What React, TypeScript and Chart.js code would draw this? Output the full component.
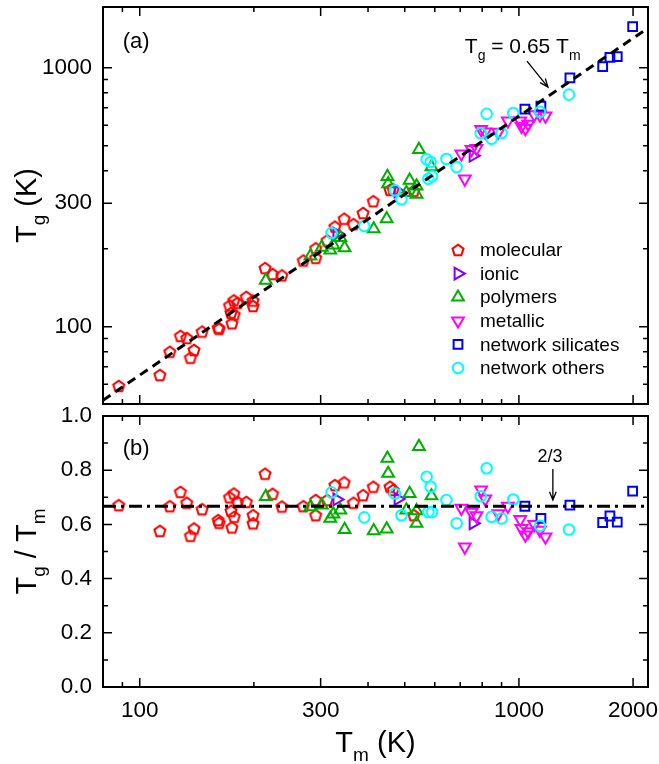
import React, { useEffect, useRef } from 'react';
import { Chart, registerables } from 'chart.js';

Chart.register(...registerables);

const W = 659;
const H = 764;
const FONT = "'Liberation Sans', Arial, Helvetica, sans-serif";

// ---- axis ranges and ticks ----
const TM_MIN = 80;
const TM_MAX = 2190;
const TG_MIN = 50.3;
const TG_MAX = 1716;
const RATIO_MIN = 0;
const RATIO_MAX = 1;

const xMajorTicks = [100, 300, 1000, 2000];
const xMinorTicks = [90, 200, 400, 500, 600, 700, 800, 900];
const tgMajorTicks = [100, 300, 1000];
const tgMinorTicks = [60, 70, 80, 90, 200, 400, 500, 600, 700, 800, 900];
const ratioMajorTicks = [0, 0.2, 0.4, 0.6, 0.8, 1.0];
const ratioMinorTicks = [0.1, 0.3, 0.5, 0.7, 0.9];

// ---- data: melting temperature Tm (K) and Tg/Tm ratio ----
const molecularTm = [88, 113, 120, 128, 133, 136, 139, 146, 161, 162, 172.5, 174, 175, 177, 177.5, 181, 191, 199, 199, 214, 224, 237, 270, 291, 291, 312, 327, 346, 366, 388, 413, 457, 466, 528];
const molecularRatio = [0.671, 0.576, 0.667, 0.720, 0.680, 0.558, 0.585, 0.656, 0.616, 0.606, 0.700, 0.650, 0.589, 0.714, 0.628, 0.683, 0.683, 0.634, 0.604, 0.787, 0.713, 0.666, 0.667, 0.690, 0.634, 0.690, 0.745, 0.755, 0.680, 0.708, 0.739, 0.739, 0.727, 0.634];

const ionicTm = [331, 480, 757];
const ionicRatio = [0.692, 0.694, 0.604];

const polymersTm = [215, 282, 302, 318, 324, 338, 347, 414, 448, 450, 452, 505, 515, 537, 537, 545, 588];
const polymersRatio = [0.703, 0.665, 0.671, 0.622, 0.638, 0.653, 0.581, 0.576, 0.583, 0.844, 0.788, 0.653, 0.714, 0.650, 0.604, 0.887, 0.705];

const metallicTm = [705, 720, 750, 773, 795, 815, 882, 935, 1008, 1016, 1040, 1058, 1098, 1136, 1175];
const metallicRatio = [0.660, 0.517, 0.645, 0.632, 0.727, 0.694, 0.640, 0.667, 0.618, 0.585, 0.561, 0.573, 0.600, 0.579, 0.554];

const silicatesTm = [1037, 1143, 1363, 1663, 1738, 1817, 1995];
const silicatesRatio = [0.667, 0.622, 0.671, 0.607, 0.631, 0.608, 0.723];

const othersTm = [320.5, 391, 471, 490, 571, 585, 577, 590, 644, 685, 793, 822, 847, 900, 966, 1136, 1355];
const othersRatio = [0.718, 0.626, 0.714, 0.634, 0.776, 0.739, 0.646, 0.646, 0.690, 0.604, 0.704, 0.807, 0.628, 0.622, 0.692, 0.595, 0.581];

// reference lines
const fitFactor = 0.65;
const fitTm = [TM_MIN, TM_MAX];
const refRatio = 2 / 3;

// annotation anchors (data coordinates)
const fitLabelTm = 720;
const fitLabelTg = 1139;
const fitArrowFrom = [1050, 1061];
const fitArrowTo = [1193, 842];
const panelALabel = [90.2, 1260];
const panelBLabel = [90.2, 0.878];
const refLabel = [1207, 0.85];
const refArrowTm = 1229;
const refArrowFrom = 0.804;
const refArrowTo = 0.690;

type Shape = 'pentagon' | 'triangle' | 'rect' | 'circle';
interface SeriesDef { label: string; tm: number[]; ratio: number[]; color: string; shape: Shape; rotation: number; radius: number; }

const seriesDefs: SeriesDef[] = [
  { label: 'molecular', tm: molecularTm, ratio: molecularRatio, color: '#FF0000', shape: 'pentagon', rotation: 0, radius: 5.8 },
  { label: 'ionic', tm: ionicTm, ratio: ionicRatio, color: '#8000FF', shape: 'triangle', rotation: 90, radius: 6.8 },
  { label: 'polymers', tm: polymersTm, ratio: polymersRatio, color: '#00B000', shape: 'triangle', rotation: 0, radius: 6.8 },
  { label: 'metallic', tm: metallicTm, ratio: metallicRatio, color: '#FF00FF', shape: 'triangle', rotation: 180, radius: 6.8 },
  { label: 'network silicates', tm: silicatesTm, ratio: silicatesRatio, color: '#0000FF', shape: 'rect', rotation: 0, radius: 6.2 },
  { label: 'network others', tm: othersTm, ratio: othersRatio, color: '#00FFFF', shape: 'circle', rotation: 0, radius: 5.3 },
];

const MARK_LW = 2;

function makePentagon(color: string, r: number, lw: number) {
  const size = Math.ceil(2 * r + lw + 4);
  const c = document.createElement('canvas');
  c.width = size;
  c.height = size;
  const g = c.getContext('2d')!;
  g.strokeStyle = color;
  g.lineWidth = lw;
  g.lineJoin = 'miter';
  const cx = size / 2;
  const cy = size / 2 + r * 0.08;
  g.beginPath();
  for (let i = 0; i < 5; i++) {
    const a = -Math.PI / 2 + (i * 2 * Math.PI) / 5;
    const px = cx + r * Math.cos(a);
    const py = cy + r * Math.sin(a);
    if (i === 0) g.moveTo(px, py);
    else g.lineTo(px, py);
  }
  g.closePath();
  g.stroke();
  return c;
}

function drawMarker(ctx: CanvasRenderingContext2D, s: SeriesDef, x: number, y: number, img: HTMLCanvasElement) {
  ctx.save();
  ctx.strokeStyle = s.color;
  ctx.lineWidth = MARK_LW;
  if (s.shape === 'pentagon') {
    ctx.drawImage(img, x - img.width / 2, y - img.height / 2);
  } else {
    ctx.beginPath();
    const r = s.radius;
    if (s.shape === 'circle') {
      ctx.arc(x, y, r, 0, Math.PI * 2);
    } else if (s.shape === 'rect') {
      const a = Math.SQRT1_2 * r;
      ctx.rect(x - a, y - a, 2 * a, 2 * a);
    } else {
      let rad = (s.rotation * Math.PI) / 180;
      for (let i = 0; i < 3; i++) {
        const px = x + Math.sin(rad) * r;
        const py = y - Math.cos(rad) * r;
        if (i === 0) ctx.moveTo(px, py);
        else ctx.lineTo(px, py);
        rad += (2 * Math.PI) / 3;
      }
      ctx.closePath();
    }
    ctx.stroke();
  }
  ctx.restore();
}

type Part = [string, boolean];
function drawRich(ctx: CanvasRenderingContext2D, parts: Part[], x: number, y: number, size: number, subSize: number, subDy: number, rotate: boolean, align: 'center' | 'left') {
  ctx.save();
  ctx.translate(x, y);
  if (rotate) ctx.rotate(-Math.PI / 2);
  ctx.textBaseline = 'alphabetic';
  ctx.textAlign = 'left';
  ctx.fillStyle = '#000';
  let total = 0;
  const widths = parts.map(([t, sub]) => {
    ctx.font = `${sub ? subSize : size}px ${FONT}`;
    const w = ctx.measureText(t).width;
    total += w;
    return w;
  });
  let cx = align === 'center' ? -total / 2 : 0;
  parts.forEach(([t, sub], i) => {
    ctx.font = `${sub ? subSize : size}px ${FONT}`;
    ctx.fillText(t, cx, sub ? subDy : 0);
    cx += widths[i];
  });
  ctx.restore();
}

function drawArrow(ctx: CanvasRenderingContext2D, x1: number, y1: number, x2: number, y2: number) {
  const head = 9;
  const ang = 0.38;
  const a = Math.atan2(y2 - y1, x2 - x1);
  ctx.save();
  ctx.strokeStyle = '#000';
  ctx.lineWidth = 1.3;
  ctx.beginPath();
  ctx.moveTo(x1, y1);
  ctx.lineTo(x2, y2);
  ctx.moveTo(x2 - head * Math.cos(a - ang), y2 - head * Math.sin(a - ang));
  ctx.lineTo(x2, y2);
  ctx.lineTo(x2 - head * Math.cos(a + ang), y2 - head * Math.sin(a + ang));
  ctx.stroke();
  ctx.restore();
}

function drawFrameTicks(chart: any, yMajor: number[], yMinor: number[]) {
  const { ctx, chartArea: a, scales } = chart;
  const xs = scales.x;
  const ys = scales.y;
  ctx.save();
  ctx.strokeStyle = '#000';
  ctx.lineWidth = 1.5;
  ctx.beginPath();
  const MAJ = 9;
  const MIN = 5;
  const xt = (v: number, len: number) => {
    const p = xs.getPixelForValue(v);
    ctx.moveTo(p, a.bottom);
    ctx.lineTo(p, a.bottom - len);
    ctx.moveTo(p, a.top);
    ctx.lineTo(p, a.top + len);
  };
  const yt = (v: number, len: number) => {
    const p = ys.getPixelForValue(v);
    ctx.moveTo(a.left, p);
    ctx.lineTo(a.left + len, p);
    ctx.moveTo(a.right, p);
    ctx.lineTo(a.right - len, p);
  };
  xMajorTicks.forEach((v) => xt(v, MAJ));
  xMinorTicks.forEach((v) => xt(v, MIN));
  yMajor.forEach((v) => yt(v, MAJ));
  yMinor.forEach((v) => yt(v, MIN));
  ctx.stroke();
  ctx.lineWidth = 2;
  ctx.strokeRect(a.left, a.top, a.right - a.left, a.bottom - a.top);
  ctx.restore();
}

function scatterDatasets(useRatio: boolean, pent: HTMLCanvasElement) {
  return seriesDefs.map((s, i) => ({
    type: 'scatter',
    label: s.label,
    data: s.tm.map((t, k) => ({ x: t, y: useRatio ? s.ratio[k] : t * s.ratio[k] })),
    pointStyle: s.shape === 'pentagon' ? pent : s.shape,
    pointRotation: s.rotation,
    pointRadius: s.radius,
    pointBorderWidth: MARK_LW,
    pointBorderColor: s.color,
    pointBackgroundColor: 'rgba(0,0,0,0)',
    order: 10 - i,
  }));
}

// fix an axis box size and cancel Chart.js label-overflow padding
function fixBox(width: number | null, height: number | null) {
  return (s: any) => {
    if (width !== null) s.width = width;
    if (height !== null) s.height = height;
    s.paddingTop = 0;
    s.paddingBottom = 0;
    s.paddingLeft = 0;
    s.paddingRight = 0;
  };
}

const tickFont = { family: FONT, size: 22.5 };

export default function App() {
  const topRef = useRef<HTMLCanvasElement>(null);
  const botRef = useRef<HTMLCanvasElement>(null);

  useEffect(() => {
    const pent = makePentagon('#FF0000', 5.8, MARK_LW);

    const topPlugin = {
      id: 'topDecor',
      afterDraw(chart: any) {
        const { ctx, chartArea: a, scales } = chart;
        const xs = scales.x;
        const ys = scales.y;
        drawFrameTicks(chart, tgMajorTicks, tgMinorTicks);
        // legend
        const legX = a.left + 355;
        const legY0 = a.top + 243;
        const legDY = 23.6;
        seriesDefs.forEach((s, i) => {
          const y = legY0 + i * legDY;
          drawMarker(ctx, s, legX, y, pent);
          ctx.save();
          ctx.fillStyle = '#000';
          ctx.font = `19px ${FONT}`;
          ctx.textBaseline = 'middle';
          ctx.textAlign = 'left';
          ctx.fillText(s.label, legX + 22, y + 1);
          ctx.restore();
        });
        // panel label
        ctx.save();
        ctx.fillStyle = '#000';
        ctx.font = `22px ${FONT}`;
        ctx.textBaseline = 'middle';
        ctx.textAlign = 'left';
        ctx.fillText('(a)', xs.getPixelForValue(panelALabel[0]), ys.getPixelForValue(panelALabel[1]));
        ctx.restore();
        // fit label + arrow
        drawRich(ctx, [['T', false], ['g', true], [' = 0.65 T', false], ['m', true]],
          xs.getPixelForValue(fitLabelTm), ys.getPixelForValue(fitLabelTg), 21, 14, 6.5, false, 'left');
        drawArrow(ctx, xs.getPixelForValue(fitArrowFrom[0]), ys.getPixelForValue(fitArrowFrom[1]),
          xs.getPixelForValue(fitArrowTo[0]), ys.getPixelForValue(fitArrowTo[1]));
        // y title
        drawRich(ctx, [['T', false], ['g', true], [' (K)', false]], 36, (a.top + a.bottom) / 2, 29, 19, 9, true, 'center');
      },
    };

    const botPlugin = {
      id: 'botDecor',
      afterDraw(chart: any) {
        const { ctx, chartArea: a, scales } = chart;
        const xs = scales.x;
        const ys = scales.y;
        drawFrameTicks(chart, ratioMajorTicks, ratioMinorTicks);
        ctx.save();
        ctx.fillStyle = '#000';
        ctx.font = `22px ${FONT}`;
        ctx.textBaseline = 'middle';
        ctx.textAlign = 'left';
        ctx.fillText('(b)', xs.getPixelForValue(panelBLabel[0]), ys.getPixelForValue(panelBLabel[1]));
        ctx.font = `18px ${FONT}`;
        ctx.textAlign = 'center';
        ctx.fillText('2/3', xs.getPixelForValue(refLabel[0]), ys.getPixelForValue(refLabel[1]));
        ctx.restore();
        const ax = xs.getPixelForValue(refArrowTm);
        drawArrow(ctx, ax, ys.getPixelForValue(refArrowFrom), ax, ys.getPixelForValue(refArrowTo));
        drawRich(ctx, [['T', false], ['g', true], [' / ', false], ['T', false], ['m', true]], 36, (a.top + a.bottom) / 2, 29, 19, 9, true, 'center');
        drawRich(ctx, [['T', false], ['m', true], [' (K)', false]], (a.left + a.right) / 2, 752, 29, 19, 9, false, 'center');
      },
    };

    const topChart = new Chart(topRef.current!, {
      type: 'scatter',
      data: {
        datasets: [
          {
            type: 'line',
            label: 'fit',
            data: fitTm.map((t) => ({ x: t, y: fitFactor * t })),
            borderColor: '#000',
            borderWidth: 3,
            borderDash: [9, 6],
            pointRadius: 0,
            fill: false,
            tension: 0,
            order: 0,
          } as any,
          ...(scatterDatasets(false, pent) as any[]),
        ],
      },
      options: {
        responsive: false,
        animation: false,
        events: [],
        layout: { padding: { top: 7, right: 11, bottom: 360, left: 0 }, autoPadding: false },
        plugins: { legend: { display: false }, tooltip: { enabled: false } },
        scales: {
          x: {
            type: 'logarithmic', min: TM_MIN, max: TM_MAX,
            grid: { display: false, drawTicks: false }, border: { display: false },
            ticks: { display: false },
            afterFit: fixBox(null, 0),
          },
          y: {
            type: 'logarithmic', min: TG_MIN, max: TG_MAX,
            grid: { display: false, drawTicks: false }, border: { display: false },
            afterBuildTicks: (s: any) => { s.ticks = tgMajorTicks.map((v) => ({ value: v })); },
            ticks: { callback: (v: any) => String(v), font: tickFont, color: '#000', padding: 11, autoSkip: false },
            afterFit: fixBox(103, null),
          },
        },
      } as any,
      plugins: [topPlugin],
    } as any);

    const botChart = new Chart(botRef.current!, {
      type: 'scatter',
      data: {
        datasets: [
          {
            type: 'line',
            label: 'ref',
            data: fitTm.map((t) => ({ x: t, y: refRatio })),
            borderColor: '#000',
            borderWidth: 3,
            borderDash: [13, 5, 3, 5],
            pointRadius: 0,
            fill: false,
            tension: 0,
            order: 0,
          } as any,
          ...(scatterDatasets(true, pent) as any[]),
        ],
      },
      options: {
        responsive: false,
        animation: false,
        events: [],
        layout: { padding: { top: 416, right: 11, bottom: 0, left: 0 }, autoPadding: false },
        plugins: { legend: { display: false }, tooltip: { enabled: false } },
        scales: {
          x: {
            type: 'logarithmic', min: TM_MIN, max: TM_MAX,
            grid: { display: false, drawTicks: false }, border: { display: false },
            afterBuildTicks: (s: any) => { s.ticks = xMajorTicks.map((v) => ({ value: v })); },
            ticks: { callback: (v: any) => String(v), font: tickFont, color: '#000', padding: 10, autoSkip: false, maxRotation: 0 },
            afterFit: fixBox(null, 77),
          },
          y: {
            type: 'linear', min: RATIO_MIN, max: RATIO_MAX,
            grid: { display: false, drawTicks: false }, border: { display: false },
            afterBuildTicks: (s: any) => { s.ticks = ratioMajorTicks.map((v) => ({ value: v })); },
            ticks: { callback: (v: any) => Number(v).toFixed(1), font: tickFont, color: '#000', padding: 11, autoSkip: false },
            afterFit: fixBox(103, null),
          },
        },
      } as any,
      plugins: [botPlugin],
    } as any);

    return () => {
      topChart.destroy();
      botChart.destroy();
    };
  }, []);

  return (
    <div style={{ position: 'absolute', left: 0, top: 0, width: W, height: H, background: '#fff' }}>
      <canvas ref={topRef} width={W} height={H} style={{ position: 'absolute', left: 0, top: 0, width: W, height: H }} />
      <canvas ref={botRef} width={W} height={H} style={{ position: 'absolute', left: 0, top: 0, width: W, height: H }} />
    </div>
  );
}
